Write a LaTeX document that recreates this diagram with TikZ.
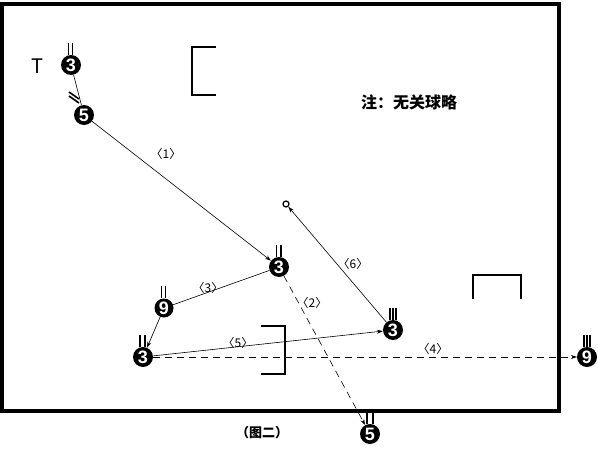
\documentclass[tikz,border=0pt]{standalone}
\usepackage{fontspec}
\setmainfont{Liberation Sans}
\newfontfamily\cjk{Noto Sans CJK SC}
\usetikzlibrary{arrows.meta}

\tikzset{
  player/.style={circle, fill=black, inner sep=0pt, minimum size=20pt,
    text=white, font=\fontsize{18}{18}\selectfont\bfseries},
  tag/.style={font=\cjk\fontsize{12}{12}\selectfont, inner sep=1pt},
  pass/.style={-{Stealth[length=6pt,width=4pt]}, line width=0.6pt},
  dpass/.style={pass, dash pattern=on 7pt off 5pt},
  goal/.style={line width=2pt},
}
% little strokes above a player
\newcommand\upmarks[2]{%
  \foreach \dx in {#2}
    \draw[line width=1.6pt] ([shift={(\dx,-10)}]#1.center) -- ++(0,-12);}

\begin{document}
\begin{tikzpicture}[x=1pt, y=-1pt]
      \useasboundingbox (0,0) rectangle (598,450);

      % ---- field and goals ----------------------------
      \draw[line width=4pt] (2,3.5) rectangle (559,411);
      \draw[goal] (216,47) -- (192,47) -- (192,95) -- (216,95);
      \draw[goal] (261,326) -- (285,326) -- (285,374) -- (261,374);
      \draw[goal] (473,299) -- (473,275) -- (521,275) -- (521,299);

      % ---- players ------------------------------------
      \node[font=\cjk\fontsize{20}{20}\selectfont] (t) at (37,66) {T};
      \node[player] (p3a) at (71,65)  {3};
      \node[player] (p5a) at (84,115) {5};
      \node[player] (p3b) at (279,267) {3};
      \node[player, minimum size=19pt] (p9a) at (164,308) {9};
      \node[player] (p3c) at (143,357) {3};
      \node[player] (p3d) at (393,330) {3};
      \node[player] (p9b) at (587,357) {9};
      \node[player] (p5b) at (370,434) {5};
      \node[circle, draw, line width=1.2pt, inner sep=0pt,
            minimum size=6pt] (ball) at (286,204) {};

      \upmarks{p3a}{-2.5,1.5}
      \upmarks{p3b}{-2.5,2}
      \upmarks{p9a}{-2.5,1.5}
      \upmarks{p3c}{-3,2}
      \upmarks{p3d}{-3,0,3}
      \upmarks{p9b}{-3,0,3}
      \upmarks{p5b}{-3,3}
      \foreach \dy in {0,4}
        \draw[line width=1.6pt] ([shift={(-15,-19-\dy)}]p5a.center) -- ++(10,7);

      % ---- passes and runs ----------------------------
      \draw[line width=0.6pt] (p3a) -- (p5a);
      \draw[pass] (p5a) -- (p3b);
      \draw[dpass] (p3b) -- (p5b);
      \draw[line width=0.6pt] (p3b) -- (p9a);
      \draw[pass] (p9a) -- (p3c);
      \draw[dpass] (p3c) -- (p9b);
      \draw[pass] (p3c) -- (p3d);
      \draw[pass] (p3d) -- (ball);

      \node[tag] (l1) at (166,154) {〈1〉};
      \node[tag] (l2) at (312,303) {〈2〉};
      \node[tag] (l3) at (208,288) {〈3〉};
      \node[tag] (l4) at (433,349) {〈4〉};
      \node[tag] (l5) at (238,343) {〈5〉};
      \node[tag] (l6) at (353,264) {〈6〉};

      % ---- notes --------------------------------------
      \node[font=\cjk\fontsize{16}{16}\selectfont\bfseries] (note) at (409,102) {注：无关球略};
      \node[font=\cjk\fontsize{13}{13}\selectfont\bfseries] (cap) at (262,433) {（图二）};
    \end{tikzpicture}
\end{document}
